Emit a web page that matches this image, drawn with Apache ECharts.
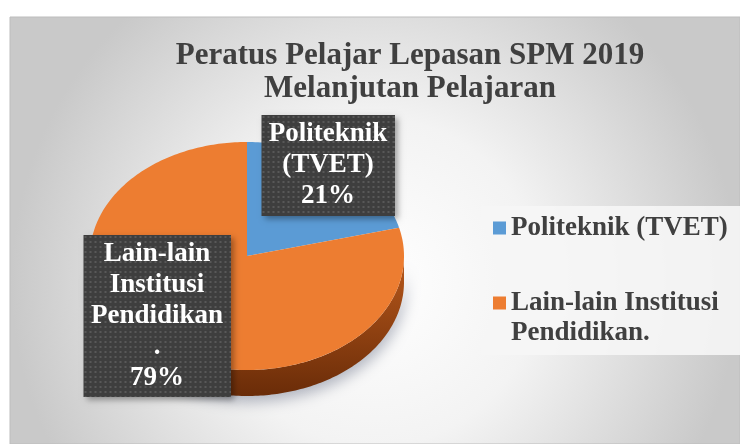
<!DOCTYPE html>
<html>
<head>
<meta charset="utf-8">
<script src="https://cdn.jsdelivr.net/npm/echarts@6/dist/echarts.min.js"></script>
<style>
html, body { margin: 0; padding: 0; background: #fff; }
#chart { width: 740px; height: 444px; }
</style>
</head>
<body>
<div id="chart"></div>
<script>
// data
var categories = ['Politeknik (TVET)', 'Lain-lain Institusi Pendidikan.'];
var shares = [21, 79];
var labelTexts = ['Politeknik\n(TVET)', 'Lain-lain\nInstitusi\nPendidikan\n.'];
var legendTexts = ['Politeknik (TVET)', 'Lain-lain Institusi\nPendidikan.'];

var colors = ['#5B9BD5', '#ED7D31'];
var sideColors = [['#3f72a3', '#294d70'], ['#b9591c', '#6a2c08']];
var serif = 'Liberation Serif';

// pie geometry (tilted, so drawn as an ellipse)
var cx = 247, cy = 256, rx = 157, ry = 114, depth = 26;
var labelBoxes = [
  { x: 328, y: 115, w: 125, h: 101, pad: [4, 4, 4, 4] },
  { x: 157, y: 235, w: 139, h: 162, pad: [4, 4, 3, 4] }
];

var total = shares.reduce(function (a, b) { return a + b; }, 0);

function startAngle(i) {
  var s = 0;
  for (var k = 0; k < i; k++) s += shares[k];
  return s / total * 360;
}

// clockwise from 12 o'clock
function pt(deg, dy) {
  var a = deg * Math.PI / 180;
  return [cx + rx * Math.sin(a), cy + dy - ry * Math.cos(a)];
}

function arc(a0, a1, dy) {
  var pts = [];
  for (var a = a0; a < a1; a += 1) pts.push(pt(a, dy));
  pts.push(pt(a1, dy));
  return pts;
}

// dotted dark fill for the label boxes
function dotted(w, h) {
  var c = document.createElement('canvas');
  c.width = w; c.height = h;
  var ctx = c.getContext('2d');
  ctx.fillStyle = '#3e3e3e';
  ctx.fillRect(0, 0, w, h);
  ctx.fillStyle = '#585858';
  for (var y = 1; y < h; y += 5) {
    for (var x = 1; x < w; x += 5) ctx.fillRect(x, y, 2, 2);
  }
  return c;
}

function renderSlice(params, api) {
  var i = params.seriesIndex;
  var a0 = startAngle(i);
  var a1 = a0 + api.value(0) / total * 360;
  var children = [];

  // side wall, only the front half shows
  var s0 = Math.max(a0, 90), s1 = Math.min(a1, 270);
  if (s1 > s0) {
    var wall = arc(s0, s1, 0).concat(arc(s0, s1, depth).reverse());
    children.push({
      type: 'polygon',
      z2: 1,
      shape: { points: wall },
      style: {
        fill: new echarts.graphic.LinearGradient(0, 0, 0, 1, [
          { offset: 0, color: sideColors[i][0] },
          { offset: 1, color: sideColors[i][1] }
        ]),
        shadowBlur: 14,
        shadowColor: 'rgba(50,60,90,0.35)',
        shadowOffsetY: 6,
        shadowOffsetX: 2
      }
    });
  }

  // top face
  children.push({
    type: 'polygon',
    z2: 10,
    shape: { points: [[cx, cy]].concat(arc(a0, a1, 0)) },
    style: { fill: colors[i] }
  });

  // drop shadow of the label box
  var box = labelBoxes[i];
  var bw = box.w + box.pad[1] + box.pad[3];
  children.push({
    type: 'rect',
    z2: 19,
    shape: { x: box.x - bw / 2, y: box.y, width: bw, height: box.h },
    style: {
      fill: '#404040',
      shadowBlur: 6,
      shadowOffsetX: 3,
      shadowOffsetY: 3,
      shadowColor: 'rgba(0,0,0,0.35)'
    }
  });

  // data label
  children.push({
    type: 'text',
    z2: 20,
    x: box.x,
    y: box.y,
    style: {
      text: labelTexts[i] + '\n' + api.value(0) + '%',
      fill: '#fff',
      font: 'bold 27px "' + serif + '"',
      lineHeight: 31,
      align: 'center',
      verticalAlign: 'top',
      width: box.w,
      padding: box.pad,
      backgroundColor: { image: dotted(bw, box.h) }
    }
  });

  return { type: 'group', children: children };
}

var myChart = echarts.init(document.getElementById('chart'));

var option = {
  animation: false,
  graphic: [{
    type: 'rect',
    z: -10,
    silent: true,
    shape: { x: 10, y: 17, width: 730, height: 427 },
    style: {
      fill: new echarts.graphic.RadialGradient(0.5, 0.62, 0.85, [
        { offset: 0, color: '#ffffff' },
        { offset: 0.45, color: '#f3f3f3' },
        { offset: 1, color: '#c9c9c9' }
      ]),
      stroke: '#bdbdbd',
      lineWidth: 1
    }
  }],
  title: {
    text: 'Peratus Pelajar Lepasan SPM 2019\nMelanjutan Pelajaran',
    left: 405,
    top: 34,
    textAlign: 'center',
    textStyle: {
      fontFamily: serif,
      fontWeight: 'bold',
      fontSize: 31,
      lineHeight: 33,
      color: '#404040'
    }
  },
  legend: {
    data: categories,
    orient: 'vertical',
    left: 481,
    top: 206,
    padding: [7, 20, 7, 12],
    itemWidth: 13,
    itemHeight: 13,
    itemGap: 15,
    icon: 'rect',
    selectedMode: false,
    backgroundColor: 'rgba(246,246,246,0.9)',
    formatter: function (name) {
      var t = legendTexts[categories.indexOf(name)];
      // keep the marker level with the first line
      return t.indexOf('\n') >= 0 ? '\n' + t : t;
    },
    textStyle: {
      fontFamily: serif,
      fontWeight: 'bold',
      fontSize: 27,
      lineHeight: 30,
      color: '#404040'
    }
  },
  series: categories.map(function (name, i) {
    return {
      name: name,
      type: 'custom',
      coordinateSystem: 'none',
      itemStyle: { color: colors[i] },
      renderItem: renderSlice,
      data: [shares[i]]
    };
  })
};

myChart.setOption(option);
</script>
</body>
</html>
